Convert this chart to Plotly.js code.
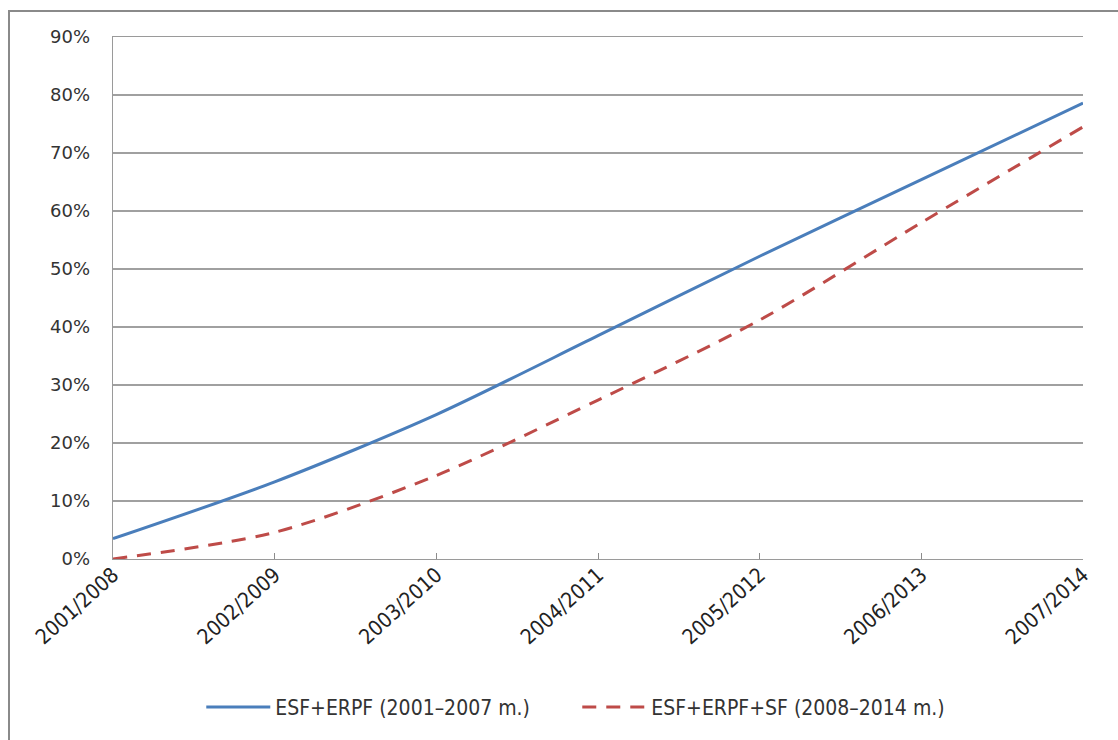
<!DOCTYPE html>
<html>
<head>
<meta charset="utf-8">
<script src="https://cdn.plot.ly/plotly-3.0.1.min.js"></script>
<style>
  html, body { margin: 0; padding: 0; background: #fff; overflow: hidden; }
  #chart { position: absolute; left: 0; top: 0; width: 1118px; height: 740px; }
  #frame { position: absolute; left: 8px; top: 10px; width: 1130px; height: 760px;
           border: 2px solid #8a8a8a; box-sizing: border-box; pointer-events: none; }
</style>
</head>
<body>
<div id="chart"></div>
<div id="frame"></div>
<script>
// Categories: programme years (first period / second period)
const periods = ["2001/2008", "2002/2009", "2003/2010", "2004/2011", "2005/2012", "2006/2013", "2007/2014"];

// Cumulative share, %
const esfErpf = [3.5, 13.3, 24.9, 38.5, 52.2, 65.4, 78.6];
const esfErpfSf = [0.0, 4.6, 14.4, 27.4, 41.2, 58.0, 74.5];

const seriesNames = ["ESF+ERPF (2001–2007 m.)", "ESF+ERPF+SF (2008–2014 m.)"];
const yTicks = [0, 10, 20, 30, 40, 50, 60, 70, 80, 90];

const narrow = '"Liberation Sans Narrow", "DejaVu Sans Condensed", "Arial Narrow", sans-serif';

const traces = [
  {
    x: periods, y: esfErpf, name: seriesNames[0], type: "scatter", mode: "lines",
    line: { color: "#4A7EBB", width: 3, shape: "spline", smoothing: 0.8 },
    hoverinfo: "skip"
  },
  {
    x: periods, y: esfErpfSf, name: seriesNames[1], type: "scatter", mode: "lines",
    line: { color: "#BE4B48", width: 3, dash: "14px,10px", shape: "spline", smoothing: 0.8 },
    hoverinfo: "skip"
  }
];

const layout = {
  width: 1118, height: 740,
  margin: { l: 113, r: 35, t: 37, b: 179, pad: 0 },
  paper_bgcolor: "rgba(0,0,0,0)",
  plot_bgcolor: "#fff",
  showlegend: true,
  legend: {
    orientation: "h",
    x: 0.091, xanchor: "left",
    y: -0.284, yanchor: "middle",
    font: { family: narrow, size: 21, color: "#333" },
    itemwidth: 64,
    entrywidth: 297,
    tracegroupgap: 0
  },
  xaxis: {
    type: "category",
    range: [0, periods.length - 1],
    showgrid: false,
    showline: true, mirror: true, linecolor: "#9a9a9a", linewidth: 1.4,
    ticks: "inside", ticklen: 6, tickcolor: "#8c8c8c", tickwidth: 1,
    tickangle: -42,
    ticklabelstandoff: -6,
    tickfont: { family: narrow, size: 21, color: "#222" },
    zeroline: false, fixedrange: true
  },
  yaxis: {
    range: [0, 90],
    tickvals: yTicks,
    ticktext: yTicks.map(v => v + "%"),
    showgrid: true, gridcolor: "#a0a0a0", gridwidth: 1.3,
    showline: true, linecolor: "#9a9a9a", linewidth: 1.4,
    ticks: "", ticklabelstandoff: 18,
    tickfont: { family: "DejaVu Sans, sans-serif", size: 18, color: "#333" },
    zeroline: false, fixedrange: true
  }
};

Plotly.newPlot("chart", traces, layout, { displayModeBar: false, staticPlot: true });
</script>
</body>
</html>
